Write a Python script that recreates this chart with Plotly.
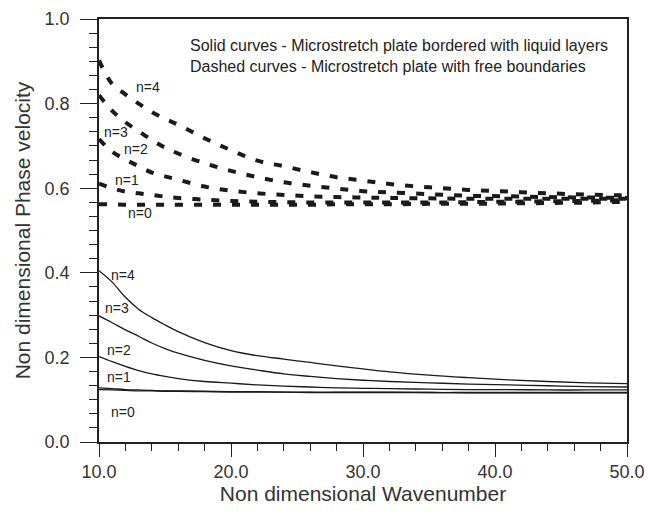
import plotly.graph_objects as go

# Wavenumber grid
wavenumber = [10, 11, 12, 13, 14, 15, 16, 18, 20, 22, 24, 26, 28, 30, 32, 35, 38, 41, 44, 47, 50]

# Dashed curves - free boundaries
dashed_n4 = [0.902, 0.846, 0.822, 0.800, 0.780, 0.764, 0.750, 0.718, 0.690, 0.665, 0.652, 0.638, 0.626, 0.618, 0.610, 0.602, 0.596, 0.592, 0.588, 0.585, 0.583]
dashed_n3 = [0.820, 0.783, 0.756, 0.735, 0.714, 0.696, 0.682, 0.659, 0.641, 0.626, 0.614, 0.606, 0.599, 0.593, 0.590, 0.586, 0.582, 0.581, 0.579, 0.578, 0.577]
dashed_n2 = [0.716, 0.686, 0.668, 0.652, 0.637, 0.628, 0.620, 0.604, 0.594, 0.588, 0.584, 0.581, 0.579, 0.578, 0.577, 0.576, 0.575, 0.575, 0.575, 0.575, 0.575]
dashed_n1 = [0.611, 0.600, 0.592, 0.588, 0.584, 0.580, 0.577, 0.573, 0.570, 0.568, 0.567, 0.566, 0.566, 0.566, 0.566, 0.566, 0.567, 0.568, 0.569, 0.570, 0.572]
dashed_n0 = [0.562, 0.562, 0.561, 0.561, 0.561, 0.561, 0.561, 0.561, 0.561, 0.561, 0.561, 0.561, 0.562, 0.562, 0.562, 0.563, 0.563, 0.564, 0.565, 0.566, 0.568]

# Solid curves - plate bordered with liquid layers
solid_n4 = [0.405, 0.378, 0.342, 0.314, 0.294, 0.277, 0.261, 0.235, 0.216, 0.204, 0.196, 0.188, 0.180, 0.173, 0.166, 0.158, 0.152, 0.147, 0.143, 0.140, 0.138]
solid_n3 = [0.298, 0.282, 0.265, 0.250, 0.234, 0.221, 0.210, 0.193, 0.180, 0.170, 0.161, 0.155, 0.150, 0.146, 0.143, 0.140, 0.137, 0.135, 0.133, 0.131, 0.130]
solid_n2 = [0.202, 0.190, 0.179, 0.169, 0.161, 0.155, 0.150, 0.143, 0.139, 0.135, 0.132, 0.130, 0.128, 0.127, 0.126, 0.125, 0.124, 0.124, 0.123, 0.123, 0.123]
solid_n1 = [0.128, 0.126, 0.124, 0.123, 0.122, 0.121, 0.121, 0.120, 0.119, 0.119, 0.118, 0.118, 0.118, 0.118, 0.118, 0.117, 0.117, 0.117, 0.117, 0.117, 0.117]
solid_n0 = [0.124, 0.123, 0.122, 0.121, 0.121, 0.120, 0.120, 0.119, 0.118, 0.118, 0.118, 0.117, 0.117, 0.117, 0.117, 0.117, 0.116, 0.116, 0.116, 0.116, 0.116]

# Curve labels (x, y, text)
dashed_labels_x = [13.7, 11.25, 12.8, 12.1, 13.1]
dashed_labels_y = [0.840, 0.733, 0.692, 0.619, 0.541]
solid_labels_x = [11.8, 11.4, 11.55, 11.5, 11.8]
solid_labels_y = [0.394, 0.316, 0.217, 0.154, 0.071]
label_texts = ["n=4", "n=3", "n=2", "n=1", "n=0"]

legend_lines = [
    "Solid curves - Microstretch plate bordered with liquid layers",
    "Dashed curves - Microstretch plate with free boundaries",
]
x_title = "Non dimensional Wavenumber"
y_title = "Non dimensional Phase velocity"

fig = go.Figure()

for ys in [dashed_n4, dashed_n3, dashed_n2, dashed_n1, dashed_n0]:
    fig.add_trace(go.Scatter(x=wavenumber, y=ys, mode="lines",
                             line=dict(color="#1a1a1a", width=4, dash="8px,11px", shape="spline"),
                             showlegend=False, hoverinfo="skip"))

for ys in [solid_n4, solid_n3, solid_n2, solid_n1, solid_n0]:
    fig.add_trace(go.Scatter(x=wavenumber, y=ys, mode="lines",
                             line=dict(color="#1a1a1a", width=1.3, shape="spline"),
                             showlegend=False, hoverinfo="skip"))

lab_font = dict(size=14, color="#222", family="Liberation Sans, Arial")
for x, y, t in zip(dashed_labels_x, dashed_labels_y, label_texts):
    fig.add_annotation(x=x, y=y, text=t, showarrow=False, font=lab_font)
for x, y, t in zip(solid_labels_x, solid_labels_y, label_texts):
    fig.add_annotation(x=x, y=y, text=t, showarrow=False, font=lab_font)

for i, line in enumerate(legend_lines):
    fig.add_annotation(xref="paper", yref="paper", x=0.168, y=0.937 - i * 0.05,
                       xanchor="left", yanchor="middle", text=line, showarrow=False,
                       font=dict(size=16, color="#222", family="Liberation Sans, Arial"))

tick_font = dict(size=18, color="#333", family="Liberation Sans, Arial")
title_font = dict(size=21, color="#333", family="Liberation Sans, Arial")

fig.update_layout(
    width=648, height=514,
    margin=dict(l=99, r=21, t=19, b=72),
    paper_bgcolor="white", plot_bgcolor="white",
    xaxis=dict(range=[10, 50], dtick=10, tick0=10, tickformat=".1f",
               showgrid=False, zeroline=False, automargin=False,
               showline=True, linecolor="#222", linewidth=1.5, mirror=True,
               ticks="outside", ticklen=13, tickwidth=1.2, tickcolor="#222",
               minor=dict(dtick=2, ticks="outside", ticklen=7, tickwidth=1.2, tickcolor="#222"),
               tickfont=tick_font, ticklabelstandoff=0,
               title=dict(text=x_title, font=title_font, standoff=4)),
    yaxis=dict(range=[0, 1.0], dtick=0.2, tick0=0, tickformat=".1f",
               showgrid=False, zeroline=False, automargin=False,
               showline=True, linecolor="#222", linewidth=1.5, mirror=True,
               ticks="outside", ticklen=17, tickwidth=1.2, tickcolor="#222",
               minor=dict(dtick=0.2 / 6, ticks="outside", ticklen=8, tickwidth=1.2, tickcolor="#222"),
               tickfont=tick_font, ticklabelstandoff=7,
               title=dict(text=y_title, font=title_font, standoff=8)),
)

fig.write_html("out.html")
